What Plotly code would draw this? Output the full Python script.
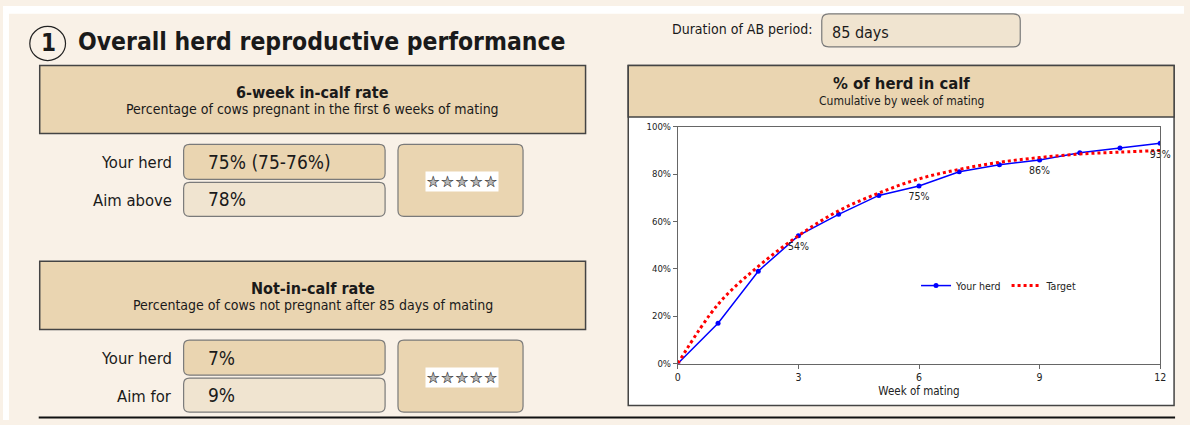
import plotly.graph_objects as go

# ---------------- data ----------------
weeks = [0, 1, 2, 3, 4, 5, 6, 7, 8, 9, 10, 11, 12]
your_herd = [0, 17, 39, 54, 63, 71, 75, 81, 84, 86, 89, 91, 93]
target = [0, 25, 41, 54, 64.5, 72, 78, 82, 85, 87, 88.5, 89.3, 90]
label_weeks = [3, 6, 9, 12]
y_ticks = [0, 20, 40, 60, 80, 100]
y_tick_labels = ["0%", "20%", "40%", "60%", "80%", "100%"]
x_ticks = [0, 3, 6, 9, 12]

page_title = "Overall herd reproductive performance"
duration_label = "Duration of AB period:"
duration_value = "85 days"
incalf_title = "6-week in-calf rate"
incalf_sub = "Percentage of cows pregnant in the first 6 weeks of mating"
incalf_labels = ["Your herd", "Aim above"]
incalf_values = ["75% (75-76%)", "78%"]
notincalf_title = "Not-in-calf rate"
notincalf_sub = "Percentage of cows not pregnant after 85 days of mating"
notincalf_labels = ["Your herd", "Aim for"]
notincalf_values = ["7%", "9%"]
chart_title = "% of herd in calf"
chart_sub = "Cumulative by week of mating"
n_stars = 5

# ---------------- style ----------------
W, H = 1190, 425
FONT = "Liberation Sans Narrow, DejaVu Sans Condensed, Roboto Condensed, Liberation Sans, sans-serif"
CREAM = "#F9F1E7"
TAN = "#EAD5B1"
LIGHT = "#F0E4D0"
DARK = "#1a1a1a"


def px(x):
    return x / W


def py(y):
    return 1 - y / H


def rrect(x0, y0, x1, y1, r, fill, line="#7a7a7a", lw=1.2):
    pts = lambda x, y: f"{px(x):.5f},{py(y):.5f}"
    path = (f"M {pts(x0 + r, y0)} L {pts(x1 - r, y0)} Q {pts(x1, y0)} {pts(x1, y0 + r)} "
            f"L {pts(x1, y1 - r)} Q {pts(x1, y1)} {pts(x1 - r, y1)} "
            f"L {pts(x0 + r, y1)} Q {pts(x0, y1)} {pts(x0, y1 - r)} "
            f"L {pts(x0, y0 + r)} Q {pts(x0, y0)} {pts(x0 + r, y0)} Z")
    return dict(type="path", path=path, xref="paper", yref="paper",
                fillcolor=fill, line=dict(color=line, width=lw), layer="below")


def rect(x0, y0, x1, y1, fill, line="#444444", lw=1.5, layer="below"):
    return dict(type="rect", xref="paper", yref="paper", x0=px(x0), x1=px(x1),
                y0=py(y1), y1=py(y0), fillcolor=fill, line=dict(color=line, width=lw), layer=layer)


def ann(text, x, y, size, xanchor="center", bold=False, color=DARK, bg=None, family=FONT):
    t = f"<b>{text}</b>" if bold else text
    d = dict(text=t, x=px(x), y=py(y), xref="paper", yref="paper", xanchor=xanchor,
             yanchor="middle", showarrow=False, font=dict(family=family, size=size, color=color))
    if bg:
        d["bgcolor"] = bg
        d["borderpad"] = 0
    return d


shapes = []
annotations = []

# white page edges (top / left)
shapes.append(dict(type="rect", xref="paper", yref="paper", x0=0, x1=1, y0=py(8), y1=1,
                   fillcolor="white", line=dict(width=0), layer="below"))
shapes.append(dict(type="rect", xref="paper", yref="paper", x0=0, x1=px(6), y0=0, y1=1,
                   fillcolor="white", line=dict(width=0), layer="below"))

# title with circled number
shapes.append(dict(type="circle", xref="paper", yref="paper", x0=px(27), x1=px(63),
                   y0=py(56), y1=py(21), line=dict(color="#222", width=1.2), layer="below"))
annotations.append(ann("1", 45.5, 38, 24, bold=True))
annotations.append(ann(page_title, 74, 36, 24.5, xanchor="left", bold=True))

# duration field
annotations.append(ann(duration_label, 817, 24, 14, xanchor="right"))
shapes.append(rrect(825, 8, 1025, 42, 7, LIGHT))
annotations.append(ann(duration_value, 833, 27, 16, xanchor="left"))


def metric_block(top, title, sub, labels, values):
    shapes.append(rect(37, top, 587, top + 70, TAN))
    annotations.append(ann(title, 312, top + 28, 16, bold=True))
    annotations.append(ann(sub, 312, top + 45, 14))
    r1 = top + 81
    rows = [(r1, r1 + 36, TAN), (r1 + 39, r1 + 74, LIGHT)]
    for (y0, y1, fill), lab, val in zip(rows, labels, values):
        shapes.append(rrect(182, y0, 385, y1, 6, fill))
        annotations.append(ann(lab, 172, (y0 + y1) / 2 + 1, 16.5, xanchor="right"))
        annotations.append(ann(val, 205, (y0 + y1) / 2, 19, xanchor="left"))
    shapes.append(rrect(398, r1, 524, r1 + 74, 6, TAN))
    sy = r1 + 38
    annotations.append(ann("★" * n_stars, 462, sy, 16, bg="white", color="#b8b8b8",
                           family="DejaVu Sans"))
    annotations.append(ann("☆" * n_stars, 462, sy, 16, color="#222", family="DejaVu Sans"))


metric_block(61, incalf_title, incalf_sub, incalf_labels, incalf_values)
metric_block(262, notincalf_title, notincalf_sub, notincalf_labels, notincalf_values)

# bottom rule
shapes.append(dict(type="line", xref="paper", yref="paper", x0=px(36), x1=px(1181),
                   y0=py(422.5), y1=py(422.5), line=dict(color="#111", width=2)))

# chart panel
shapes.append(rect(630, 61, 1180, 410, "white"))
shapes.append(rect(630, 61, 1180, 114, TAN))
annotations.append(ann(chart_title, 905, 80, 16.5, bold=True))
annotations.append(ann(chart_sub, 905, 98, 12))

fig = go.Figure()
fig.add_trace(go.Scatter(
    x=weeks, y=your_herd, name="Your herd", mode="lines+markers",
    line=dict(color="#0000FF", width=1.5), marker=dict(size=5, color="#0000FF"),
))
fig.add_trace(go.Scatter(
    x=weeks, y=target, name="Target", mode="lines",
    line=dict(color="#FF0000", width=3, dash="dot", shape="spline"),
))
lab_y = [your_herd[weeks.index(w)] for w in label_weeks]
fig.add_trace(go.Scatter(
    x=label_weeks, y=lab_y, mode="markers+text", text=[f"{v}%" for v in lab_y],
    marker=dict(size=9, opacity=0),
    textposition="bottom center", textfont=dict(family=FONT, size=10.5, color="#222"),
    showlegend=False, cliponaxis=False, hoverinfo="skip",
))

fig.update_layout(
    width=W, height=H, margin=dict(l=0, r=0, t=0, b=0),
    paper_bgcolor=CREAM, plot_bgcolor="white",
    font=dict(family=FONT, color=DARK),
    shapes=shapes, annotations=annotations,
    showlegend=True,
    legend=dict(orientation="h", x=px(920), y=py(287), xanchor="left", yanchor="middle",
                bgcolor="rgba(0,0,0,0)", font=dict(family=FONT, size=10.5, color="#222"),
                itemwidth=30, tracegroupgap=0),
    xaxis=dict(domain=[px(680), px(1166)], range=[0, 12], tickvals=x_ticks,
               showgrid=False, zeroline=False, showline=True, linecolor="#666", linewidth=1,
               mirror=True, ticks="outside", ticklen=4, tickcolor="#666",
               tickfont=dict(family=FONT, size=10.5, color="#222"),
               title=dict(text="Week of mating", font=dict(family=FONT, size=11.5, color="#222"),
                          standoff=4)),
    yaxis=dict(domain=[py(367), py(124)], range=[0, 100], tickvals=y_ticks,
               ticktext=y_tick_labels, showgrid=False, zeroline=False, showline=True,
               linecolor="#666", linewidth=1, mirror=True, ticks="outside", ticklen=4,
               tickcolor="#666", tickfont=dict(family=FONT, size=9.5, color="#222")),
)

fig.write_html(
    "out.html",
    config={"displayModeBar": False},
    post_script="document.body.style.margin='0';document.body.style.overflow='hidden';",
)
